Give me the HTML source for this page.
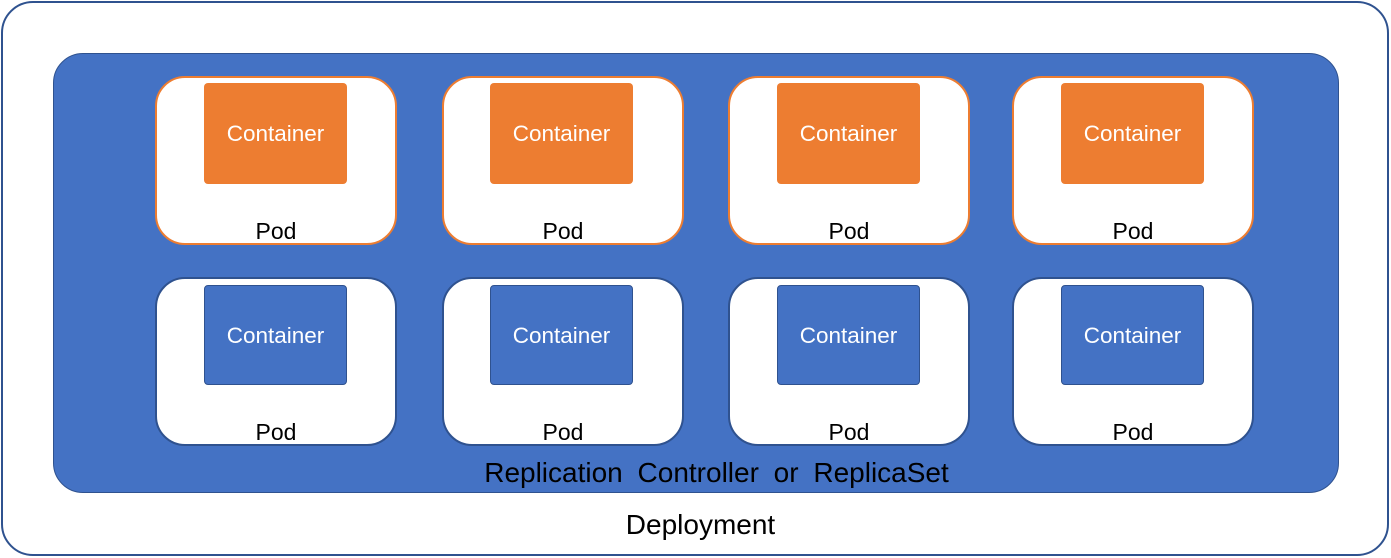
<!DOCTYPE html>
<html><head><style>
body{margin:0;width:1391px;height:558px;background:#fff;position:relative;overflow:hidden;font-family:"Liberation Sans",sans-serif}
div{position:absolute;box-sizing:border-box}
.outer{left:1px;top:1px;width:1388px;height:555px;border:2px solid #2f528f;border-radius:32px;background:#fff}
.rs{left:53px;top:53px;width:1286px;height:440px;background:#4472c4;border:1.5px solid #2f528f;border-radius:30px}
.pod{width:242px;height:169px;background:#fff;border-radius:30px;border:2px solid #2f528f}
.pod.o{border-color:#ed7d31}
.c{width:143px;height:101px;border-radius:4px;color:#fff;font-size:22.5px;text-align:center;line-height:100px}
.c.o{background:#ed7d31}
.c.b{background:#4472c4;border:1.5px solid #2f528f;height:100px}
.pl{width:242px;text-align:center;font-size:23px;color:#000;line-height:26px}
.t{width:100%;text-align:center;font-size:28px;color:#000;line-height:32px}
</style></head><body>
<div class="outer"></div>
<div class="rs"></div>

<div class="pod o" style="left:155px;top:76px"></div>
<div class="pod o" style="left:442px;top:76px"></div>
<div class="pod o" style="left:728px;top:76px"></div>
<div class="pod o" style="left:1012px;top:76px"></div>
<div class="pod" style="left:155px;top:277px"></div>
<div class="pod" style="left:442px;top:277px"></div>
<div class="pod" style="left:728px;top:277px"></div>
<div class="pod" style="left:1012px;top:277px"></div>

<div class="c o" style="left:204px;top:83px;line-height:102px">Container</div>
<div class="c o" style="left:490px;top:83px;line-height:102px">Container</div>
<div class="c o" style="left:777px;top:83px;line-height:102px">Container</div>
<div class="c o" style="left:1061px;top:83px;line-height:102px">Container</div>
<div class="c b" style="left:204px;top:285px">Container</div>
<div class="c b" style="left:490px;top:285px">Container</div>
<div class="c b" style="left:777px;top:285px">Container</div>
<div class="c b" style="left:1061px;top:285px">Container</div>

<div class="pl" style="left:155px;top:218px">Pod</div>
<div class="pl" style="left:442px;top:218px">Pod</div>
<div class="pl" style="left:728px;top:218px">Pod</div>
<div class="pl" style="left:1012px;top:218px">Pod</div>
<div class="pl" style="left:155px;top:419px">Pod</div>
<div class="pl" style="left:442px;top:419px">Pod</div>
<div class="pl" style="left:728px;top:419px">Pod</div>
<div class="pl" style="left:1012px;top:419px">Pod</div>

<div class="t" style="left:21px;top:457px;word-spacing:7px">Replication Controller or ReplicaSet</div>
<div class="t" style="left:5px;top:509px">Deployment</div>
</body></html>
